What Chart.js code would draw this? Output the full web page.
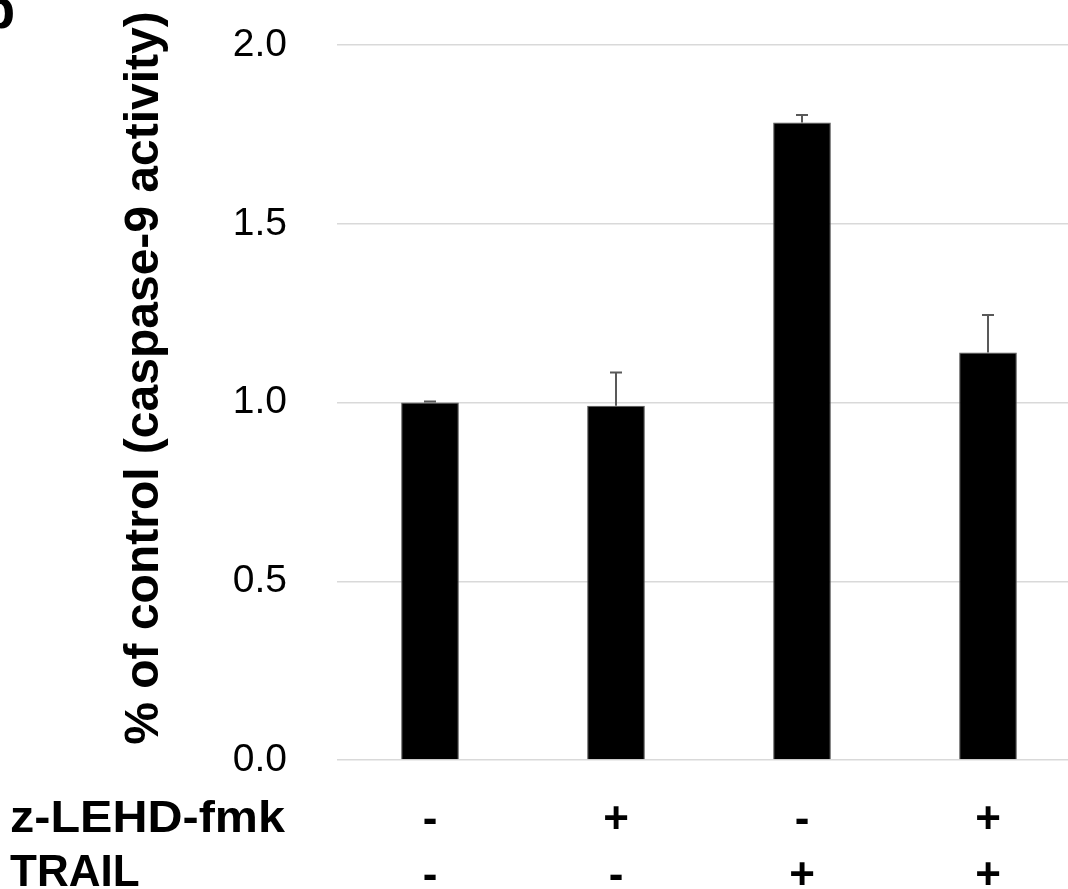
<!DOCTYPE html>
<html>
<head>
<meta charset="utf-8">
<script src="https://cdn.jsdelivr.net/npm/chart.js@4"></script>
<style>
  html, body { margin: 0; padding: 0; background: #fff; overflow: hidden; }
  #wrap { width: 1081px; height: 889px; }
</style>
</head>
<body>
<div id="wrap"><canvas id="c" width="1081" height="889"></canvas></div>
<script>
// ---- data ----
const zLEHD = ['-', '+', '-', '+'];
const trail = ['-', '-', '+', '+'];
const rowTitles = ['z-LEHD-fmk', 'TRAIL'];
const values = [1.0, 0.991, 1.783, 1.140];
const errors = [0.003, 0.093, 0.021, 0.105];
const yTicks = [0, 0.5, 1.0, 1.5, 2.0];
const yTitle = '% of control (caspase-9 activity)';
const panelLetter = 'b';

const labels = zLEHD.map((z, i) => [z, trail[i]]);
const FONT = '"Liberation Sans", Arial, sans-serif';

const errorBars = {
  id: 'errorBars',
  afterDatasetsDraw(chart) {
    const ctx = chart.ctx;
    const y = chart.scales.y;
    const meta = chart.getDatasetMeta(0);
    ctx.save();
    ctx.strokeStyle = '#595959';
    ctx.lineWidth = 2;
    meta.data.forEach((bar, i) => {
      const top = y.getPixelForValue(values[i] + errors[i]);
      const base = y.getPixelForValue(values[i]);
      ctx.beginPath();
      ctx.moveTo(bar.x, base);
      ctx.lineTo(bar.x, top);
      ctx.moveTo(bar.x - 6, top);
      ctx.lineTo(bar.x + 6, top);
      ctx.stroke();
    });
    ctx.restore();
  }
};

const extraText = {
  id: 'extraText',
  afterDraw(chart) {
    const ctx = chart.ctx;
    ctx.save();
    ctx.fillStyle = '#000';
    // row titles
    ctx.font = 'bold 44px ' + FONT;
    ctx.textAlign = 'left';
    ctx.textBaseline = 'alphabetic';
    const w0 = ctx.measureText(rowTitles[0]).width;
    ctx.save();
    ctx.translate(10, 832);
    ctx.scale(275 / w0, 1);
    ctx.fillText(rowTitles[0], 0, 0);
    ctx.restore();
    ctx.fillText(rowTitles[1], 10, 886);
    // y axis title
    ctx.font = 'bold 48px ' + FONT;
    ctx.translate(145, 378);
    ctx.rotate(-Math.PI / 2);
    ctx.textAlign = 'center';
    ctx.textBaseline = 'middle';
    ctx.fillText(yTitle, 0, 0);
    ctx.restore();
    // panel letter (cut off)
    ctx.save();
    ctx.font = 'bold 56px ' + FONT;
    ctx.fillStyle = '#000';
    ctx.textBaseline = 'alphabetic';
    ctx.fillText(panelLetter, -19, 28);
    ctx.restore();
  }
};

new Chart(document.getElementById('c'), {
  type: 'bar',
  data: {
    labels: labels,
    datasets: [{
      data: values,
      backgroundColor: '#000',
      borderColor: '#555',
      borderWidth: 1,
      categoryPercentage: 1.0,
      barPercentage: 0.31
    }]
  },
  options: {
    responsive: false,
    animation: false,
    devicePixelRatio: 1,
    layout: { padding: { left: 0, right: 0, top: 45, bottom: 0 } },
    plugins: { legend: { display: false }, tooltip: { enabled: false } },
    scales: {
      x: {
        grid: { display: false, drawTicks: false },
        border: { display: false },
        ticks: {
          color: '#000',
          padding: 33,
          maxRotation: 0,
          font: { family: FONT, size: 44, weight: 'bold', lineHeight: '56px' }
        },
        afterFit(scale) { scale.height = 129; }
      },
      y: {
        min: 0,
        max: 2,
        afterBuildTicks(scale) { scale.ticks = yTicks.map(v => ({ value: v })); },
        grid: { color: '#d9d9d9', lineWidth: 1.5, drawTicks: false },
        border: { display: false },
        ticks: {
          color: '#000',
          padding: 50,
          font: { family: FONT, size: 39 },
          callback: v => Number(v).toFixed(1)
        },
        afterFit(scale) {
          scale.width = 337;
          scale.paddingTop = 0;
          scale.paddingBottom = 0;
        }
      }
    }
  },
  plugins: [errorBars, extraText]
});
</script>
</body>
</html>
